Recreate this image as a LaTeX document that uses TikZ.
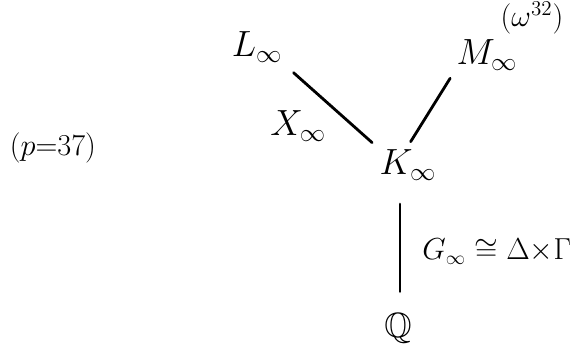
\documentclass[tikz,border=0pt]{standalone}
\usepackage{amssymb}
\usetikzlibrary{positioning}
\begin{document}
\begin{tikzpicture}[x=0.02cm, y=-0.02cm]
\tikzset{fld/.style={font=\fontsize{20}{24}\selectfont, inner sep=2pt},
  ln/.style={line width=1.6pt, line cap=round}}
\useasboundingbox (0,0) rectangle (575,352);
\node[fld] (L) at (257,47) {$L_\infty$};
\node[fld] (M) at (487,55) {$M_\infty$};
\node[fld, font=\fontsize{17}{20}\selectfont] (Mexp) at (532,18) {$(\omega^{32})$};
\node[fld] (K) at (408,165) {$K_\infty$};
\node[fld] (Q) at (398,328) {$\mathbb{Q}$};
\node[fld, font=\fontsize{17}{20}\selectfont] (p) at (53,148) {$(p{=}37)$};
\draw[ln, shorten <=0.2cm, shorten >=0.1cm] (L.south east) -- node[fld, below left] (X) {$X_\infty$} (K.north west);
\draw[ln, shorten <=0.1cm, shorten >=0.1cm] (M.south west) -- (K.north);
\draw[ln, shorten <=0.4cm, shorten >=0.35cm] ([xshift=-0.16cm]K.south) -- node[fld, font=\fontsize{16}{20}\selectfont, right=0.35cm, yshift=-0.1cm] (G) {$G_\infty\;{\cong}\;\Delta{\times}\Gamma$} ([xshift=-0.16cm]K.south |- Q.north);
\end{tikzpicture}
\end{document}
